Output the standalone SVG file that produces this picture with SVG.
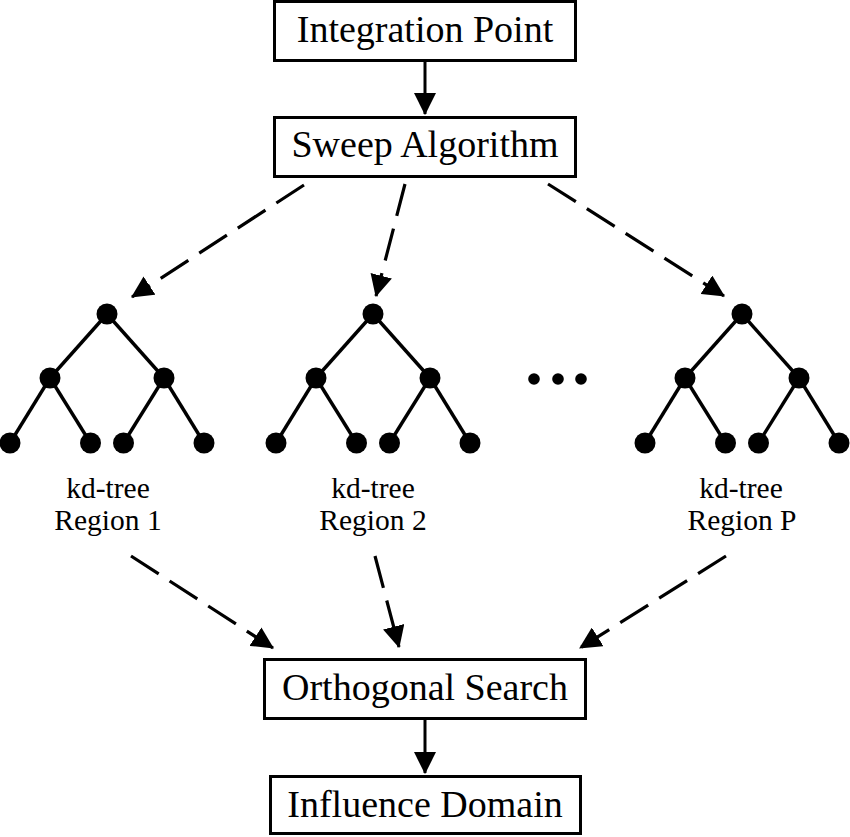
<svg xmlns="http://www.w3.org/2000/svg" xmlns:xlink="http://www.w3.org/1999/xlink" width="850" height="837" viewBox="0 0 850 837">
<style>
.box{fill:#fff;stroke:#000;stroke-width:3}
.lbl{font-family:"Liberation Serif","Times New Roman",serif;font-size:38px;fill:#000;text-anchor:middle}
.small{font-family:"Liberation Serif","Times New Roman",serif;font-size:29.5px;fill:#000;text-anchor:middle}
.solid{stroke:#000;stroke-width:3;fill:none;marker-end:url(#head)}
.dash{stroke:#000;stroke-width:3.2;fill:none;stroke-dasharray:33 13;marker-end:url(#head)}
.edge{stroke:#000;stroke-width:3.4}
.dot{fill:#000}
</style>
<defs>
<marker id="head" markerUnits="userSpaceOnUse" markerWidth="22" markerHeight="22" viewBox="0 0 20 20" refX="19" refY="10" orient="auto">
<path d="M0,0 L20,10 L0,20 Z" fill="#000"/>
</marker>
<g id="tree">
<line class="edge" x1="0" y1="0" x2="-57" y2="64"/>
<line class="edge" x1="0" y1="0" x2="57" y2="64"/>
<line class="edge" x1="-57" y1="64" x2="-97" y2="129"/>
<line class="edge" x1="-57" y1="64" x2="-16.5" y2="129"/>
<line class="edge" x1="57" y1="64" x2="16.5" y2="129"/>
<line class="edge" x1="57" y1="64" x2="97" y2="129"/>
<circle class="dot" cx="0" cy="0" r="10.5"/>
<circle class="dot" cx="-57" cy="64" r="10.5"/>
<circle class="dot" cx="57" cy="64" r="10.5"/>
<circle class="dot" cx="-97" cy="129" r="10.5"/>
<circle class="dot" cx="-16.5" cy="129" r="10.5"/>
<circle class="dot" cx="16.5" cy="129" r="10.5"/>
<circle class="dot" cx="97" cy="129" r="10.5"/>
</g>
</defs>
<rect width="850" height="837" fill="#fff"/>
<g id="connectors">
<line class="solid" x1="425" y1="62" x2="425" y2="114"/>
<line class="dash" x1="304" y1="185" x2="132" y2="297"/>
<line class="dash" x1="405" y1="184" x2="376" y2="296"/>
<line class="dash" x1="548" y1="184" x2="724" y2="296"/>
<line class="dash" x1="131" y1="556" x2="273" y2="648"/>
<line class="dash" x1="375" y1="556" x2="399" y2="647"/>
<line class="dash" x1="726" y1="556" x2="580" y2="648"/>
<line class="solid" x1="425" y1="720" x2="425" y2="773"/>
</g>
<g id="integration-point">
<rect class="box" x="274.5" y="1.5" width="301" height="59"/>
<text class="lbl" x="425" y="42">Integration Point</text>
</g>
<g id="sweep-algorithm">
<rect class="box" x="274.5" y="117.5" width="301" height="59"/>
<text class="lbl" x="425" y="157">Sweep Algorithm</text>
</g>
<g id="tree-region-1">
<use xlink:href="#tree" href="#tree" transform="translate(107,314)"/>
<text class="small" x="108" y="498">kd-tree</text>
<text class="small" x="108" y="530">Region 1</text>
</g>
<g id="tree-region-2">
<use xlink:href="#tree" href="#tree" transform="translate(373,314)"/>
<text class="small" x="373" y="498">kd-tree</text>
<text class="small" x="373" y="530">Region 2</text>
</g>
<g id="ellipsis">
<circle class="dot" cx="534" cy="379" r="5.8"/>
<circle class="dot" cx="558" cy="379" r="5.8"/>
<circle class="dot" cx="581" cy="379" r="5.8"/>
</g>
<g id="tree-region-p">
<use xlink:href="#tree" href="#tree" transform="translate(742,314)"/>
<text class="small" x="741" y="498">kd-tree</text>
<text class="small" x="742" y="530">Region P</text>
</g>
<g id="orthogonal-search">
<rect class="box" x="264.5" y="659.5" width="321" height="59"/>
<text class="lbl" x="425" y="700">Orthogonal Search</text>
</g>
<g id="influence-domain">
<rect class="box" x="270.5" y="776.5" width="310" height="57"/>
<text class="lbl" x="425" y="817">Influence Domain</text>
</g>
</svg>
